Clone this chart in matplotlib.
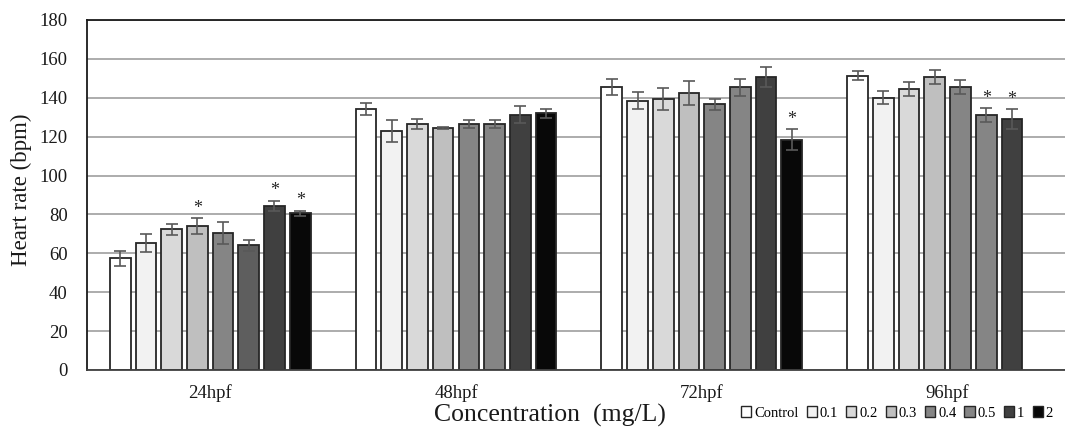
import numpy as np
import matplotlib
matplotlib.use("Agg")
import matplotlib.pyplot as plt
from matplotlib.patches import Patch

plt.rcParams['font.family'] = ['Liberation Serif', 'DejaVu Serif']

# Data
groups = ['24hpf', '48hpf', '72hpf', '96hpf']
concs = ['Control', '0.1', '0.2', '0.3', '0.4', '0.5', '1', '2']

hr_24 = [57.5, 65.3, 72.4, 74.0, 70.5, 64.2, 84.4, 80.6]
err_24 = [3.9, 4.4, 2.9, 4.1, 5.5, 2.9, 2.7, 1.4]
hr_48 = [134.3, 123.1, 126.5, 124.7, 126.5, 126.5, 131.3, 132.0]
err_48 = [3.1, 5.7, 2.6, 0.5, 2.2, 2.2, 4.3, 2.4]
hr_72 = [145.4, 138.5, 139.2, 142.5, 136.7, 145.4, 150.7, 118.5]
err_72 = [4.1, 4.5, 5.7, 6.3, 2.9, 4.3, 5.0, 5.5]
hr_96 = [151.4, 140.1, 144.7, 150.5, 145.6, 131.2, 129.0, np.nan]
err_96 = [2.3, 3.3, 3.6, 3.6, 3.8, 3.5, 5.1, np.nan]

# significance marks (*) per group
sig_24 = ['0.3', '1', '2']
sig_48 = []
sig_72 = ['2']
sig_96 = ['0.5', '1']

hr = [hr_24, hr_48, hr_72, hr_96]
err = [err_24, err_48, err_72, err_96]
sig = [sig_24, sig_48, sig_72, sig_96]

colors = ['#ffffff', '#f2f2f2', '#d9d9d9', '#bfbfbf', '#858585', '#858585', '#404040', '#080808']
edge = '#262626'

fig = plt.figure(figsize=(10.65, 4.32), dpi=100)
ax = fig.add_axes([87.3 / 1065, 1 - 370 / 432, 983.2 / 1065, 350 / 432])

step = 0.1046
width = 0.0842
for gi, g in enumerate(groups):
    for j, c in enumerate(concs):
        v = hr[gi][j]
        if np.isnan(v):
            continue
        x = gi - 3.5 * step + j * step
        fc = colors[j]
        if g == '24hpf' and c == '0.5':
            fc = '#5e5e5e'
        ax.bar(x, v, width, color=fc, edgecolor=edge, linewidth=1.3, zorder=2)
        ax.errorbar(x, v, yerr=err[gi][j], fmt='none', ecolor='#595959',
                    elinewidth=1.2, capsize=4, capthick=1.2, zorder=3)
        if c in sig[gi]:
            ax.annotate('*', (x, v + err[gi][j]), xytext=(0, 1),
                        textcoords='offset points', ha='center', va='bottom',
                        fontsize=13, color='#262626', zorder=4)

ax.set_xlim(-0.5, len(groups) - 0.5)
ax.set_ylim(0, 180)
ax.set_yticks(np.arange(0, 181, 20))
ax.set_xticks(range(len(groups)))
ax.set_xticklabels(groups)
ax.tick_params(axis='y', length=0, pad=14, labelsize=13.5, colors='#1a1a1a')
ax.tick_params(axis='x', length=0, pad=10, labelsize=13.5, colors='#1a1a1a')

ax.grid(axis='y', color='#a6a6a6', linewidth=1.3, zorder=0)
ax.set_axisbelow(True)
for s in ['left', 'top']:
    ax.spines[s].set_color('#1a1a1a')
    ax.spines[s].set_linewidth(1.3)
ax.spines['bottom'].set_color('#404040')
ax.spines['bottom'].set_linewidth(1.3)
ax.spines['right'].set_visible(False)

ax.set_ylabel('Heart rate (bpm)', fontsize=16.5, color='#1a1a1a')
ax.yaxis.set_label_coords(-0.056, 0.514)
ax.set_xlabel('Concentration  (mg/L)', fontsize=18.5, color='#1a1a1a', va='center')
ax.xaxis.set_label_coords((550 - 87.3) / 983.2, (370 - 415) / 350)

handles = [Patch(facecolor=colors[j], edgecolor=edge, linewidth=1.0) for j in range(len(concs))]
fig.legend(handles, concs, loc='center', bbox_to_anchor=(897 / 1065, 1 - 413 / 432),
           ncol=len(concs), frameon=False, fontsize=10.5, handlelength=0.7,
           handleheight=0.7, handletextpad=0.2, columnspacing=0.55, borderpad=0)

fig.savefig('out.png', dpi=100)
